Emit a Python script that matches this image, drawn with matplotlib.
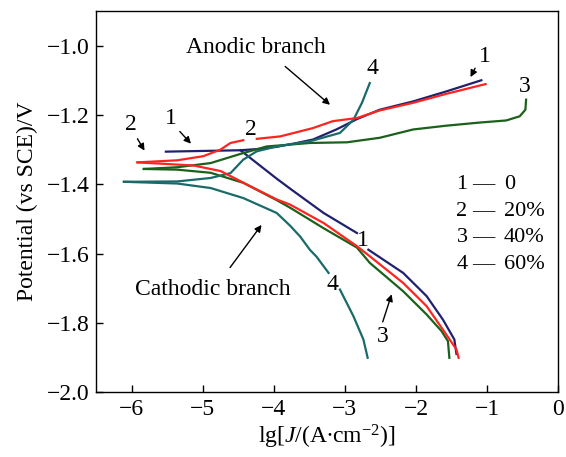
import matplotlib
matplotlib.use("Agg")
import matplotlib.pyplot as plt

plt.rcParams['font.family'] = ['Liberation Serif', 'DejaVu Serif']
plt.rcParams['mathtext.fontset'] = 'custom'
plt.rcParams['mathtext.rm'] = 'Liberation Serif'
plt.rcParams['mathtext.it'] = 'Liberation Serif:italic'

# curve 1 (0%)
an1_x = [-5.52, -5.0, -4.47, -4.2, -3.96, -3.70, -3.45, -3.12, -2.83, -2.51, -2.04, -1.57, -1.08]
an1_y = [-1.306, -1.304, -1.302, -1.298, -1.292, -1.282, -1.271, -1.242, -1.212, -1.185, -1.161, -1.132, -1.100]
# cathodic branch of curve 1, broken where the label "1" sits
ca1a_x = [-4.47, -4.24, -3.96, -3.77, -3.30, -2.83]
ca1a_y = [-1.302, -1.339, -1.384, -1.413, -1.483, -1.541]
ca1b_x = [-2.67, -2.18, -1.85, -1.62, -1.46, -1.43]
ca1b_y = [-1.589, -1.656, -1.723, -1.791, -1.848, -1.890]

# curve 2 (20%), anodic split where the label sits
an2a_x = [-5.92, -5.36, -4.99, -4.75, -4.61, -4.43]
an2a_y = [-1.337, -1.331, -1.319, -1.300, -1.281, -1.273]
an2b_x = [-4.24, -3.91, -3.45, -3.17, -2.83, -2.51, -2.04, -1.57, -1.02]
an2b_y = [-1.269, -1.262, -1.238, -1.218, -1.209, -1.187, -1.165, -1.139, -1.111]
ca2_x = [-5.92, -5.13, -4.75, -4.33, -3.96, -3.77, -3.30, -2.83, -2.65, -2.18, -1.85, -1.62, -1.43, -1.40]
ca2_y = [-1.337, -1.346, -1.362, -1.406, -1.444, -1.459, -1.512, -1.579, -1.608, -1.685, -1.752, -1.820, -1.877, -1.901]

# curve 3 (40%)
an3_x = [-5.83, -5.36, -4.89, -4.43, -4.10, -3.49, -2.97, -2.51, -2.04, -1.57, -1.10, -0.73, -0.54, -0.46, -0.45]
an3_y = [-1.356, -1.351, -1.339, -1.310, -1.291, -1.281, -1.279, -1.266, -1.242, -1.231, -1.222, -1.216, -1.204, -1.185, -1.156]
ca3_x = [-5.83, -5.36, -4.89, -4.43, -3.96, -3.77, -3.30, -2.83, -2.65, -2.18, -1.85, -1.64, -1.55, -1.53]
ca3_y = [-1.356, -1.358, -1.367, -1.396, -1.446, -1.468, -1.527, -1.583, -1.627, -1.709, -1.776, -1.824, -1.853, -1.901]

# curve 4 (60%)
an4_x = [-6.11, -5.36, -4.89, -4.61, -4.43, -4.24, -3.96, -3.49, -3.07, -2.88, -2.76, -2.65]
an4_y = [-1.393, -1.392, -1.382, -1.368, -1.329, -1.305, -1.291, -1.276, -1.252, -1.214, -1.165, -1.108]
ca4a_x = [-6.11, -5.36, -4.89, -4.43, -3.96, -3.77, -3.63, -3.49, -3.40, -3.23]
ca4a_y = [-1.393, -1.398, -1.411, -1.440, -1.483, -1.520, -1.551, -1.590, -1.609, -1.656]
ca4b_x = [-3.07, -2.88, -2.74, -2.68]
ca4b_y = [-1.704, -1.781, -1.848, -1.901]

colors = {'1': '#20206e', '2': '#ff2420', '3': '#1b601b', '4': '#1a6a6a'}
legend_rows = [('1', '0'), ('2', '20%'), ('3', '40%'), ('4', '60%')]

fig = plt.figure(figsize=(5.66, 4.57), dpi=100)
ax = fig.add_axes([0.170, 0.142, 0.816, 0.834])

lw = 1.6
ax.plot(an1_x, an1_y, color=colors['1'], lw=lw)
ax.plot(ca1a_x, ca1a_y, color=colors['1'], lw=lw)
ax.plot(ca1b_x, ca1b_y, color=colors['1'], lw=lw)
ax.plot(an3_x, an3_y, color=colors['3'], lw=lw)
ax.plot(ca3_x, ca3_y, color=colors['3'], lw=lw)
ax.plot(an4_x, an4_y, color=colors['4'], lw=lw)
ax.plot(ca4a_x, ca4a_y, color=colors['4'], lw=lw)
ax.plot(ca4b_x, ca4b_y, color=colors['4'], lw=lw)
ax.plot(an2a_x, an2a_y, color=colors['2'], lw=lw)
ax.plot(an2b_x, an2b_y, color=colors['2'], lw=lw)
ax.plot(ca2_x, ca2_y, color=colors['2'], lw=lw)

ax.set_xlim(-6.5, 0)
ax.set_ylim(-2.0, -0.9)
ax.set_xticks([-6, -5, -4, -3, -2, -1, 0])
ax.set_yticks([-2.0, -1.8, -1.6, -1.4, -1.2, -1.0])
ax.set_xticklabels(['\u22126', '\u22125', '\u22124', '\u22123', '\u22122', '\u22121', '0'])
ax.set_yticklabels(['\u22122.0', '\u22121.8', '\u22121.6', '\u22121.4', '\u22121.2', '\u22121.0'])
ax.tick_params(direction='in', length=5, width=1, labelsize=17, pad=5)
for s in ax.spines.values():
    s.set_linewidth(1)
ax.set_xlabel(r'lg[$J$/(A$\bullet$cm$^{-2}$)]', fontsize=17, labelpad=2)
ax.set_ylabel('Potential (vs SCE)/V', fontsize=17, labelpad=6)

fs = 17
arrow = dict(arrowstyle='-|>', color='black', lw=1, mutation_scale=10)
ax.text(-4.26, -1.006, 'Anodic branch', fontsize=fs, ha='center', va='center')
ax.annotate('', xy=(-3.18, -1.176), xytext=(-3.87, -1.055), arrowprops=arrow)
ax.text(-4.86, -1.704, 'Cathodic branch', fontsize=fs, ha='center', va='center')
ax.annotate('', xy=(-4.15, -1.511), xytext=(-4.64, -1.647), arrowprops=arrow)

ax.text(-2.61, -1.065, '4', fontsize=fs, ha='center', va='center')
ax.text(-1.03, -1.03, '1', fontsize=fs, ha='center', va='center')
ax.annotate('', xy=(-1.25, -1.098), xytext=(-1.15, -1.058), arrowprops=arrow)
ax.text(-0.47, -1.117, '3', fontsize=fs, ha='center', va='center')
ax.text(-6.01, -1.228, '2', fontsize=fs, ha='center', va='center')
ax.annotate('', xy=(-5.80, -1.31), xytext=(-5.94, -1.262), arrowprops=arrow)
ax.text(-5.45, -1.21, '1', fontsize=fs, ha='center', va='center')
ax.annotate('', xy=(-5.14, -1.289), xytext=(-5.35, -1.242), arrowprops=arrow)
ax.text(-4.33, -1.242, '2', fontsize=fs, ha='center', va='center')
ax.text(-2.75, -1.562, '1', fontsize=fs, ha='center', va='center')
ax.text(-3.18, -1.69, '4', fontsize=fs, ha='center', va='center')
ax.text(-2.47, -1.84, '3', fontsize=fs, ha='center', va='center')
ax.annotate('', xy=(-2.33, -1.71), xytext=(-2.48, -1.805), arrowprops=arrow)

leg_y = [-1.40, -1.478, -1.554, -1.632]
for (num, val), yy in zip(legend_rows, leg_y):
    ax.text(-1.43, yy, num, fontsize=16, ha='left', va='center')
    ax.text(-1.21, yy, '\u2014', fontsize=16, ha='left', va='center')
    ax.text(-0.76, yy, val, fontsize=16, ha='left', va='center')

fig.savefig('out.png', dpi=100)
